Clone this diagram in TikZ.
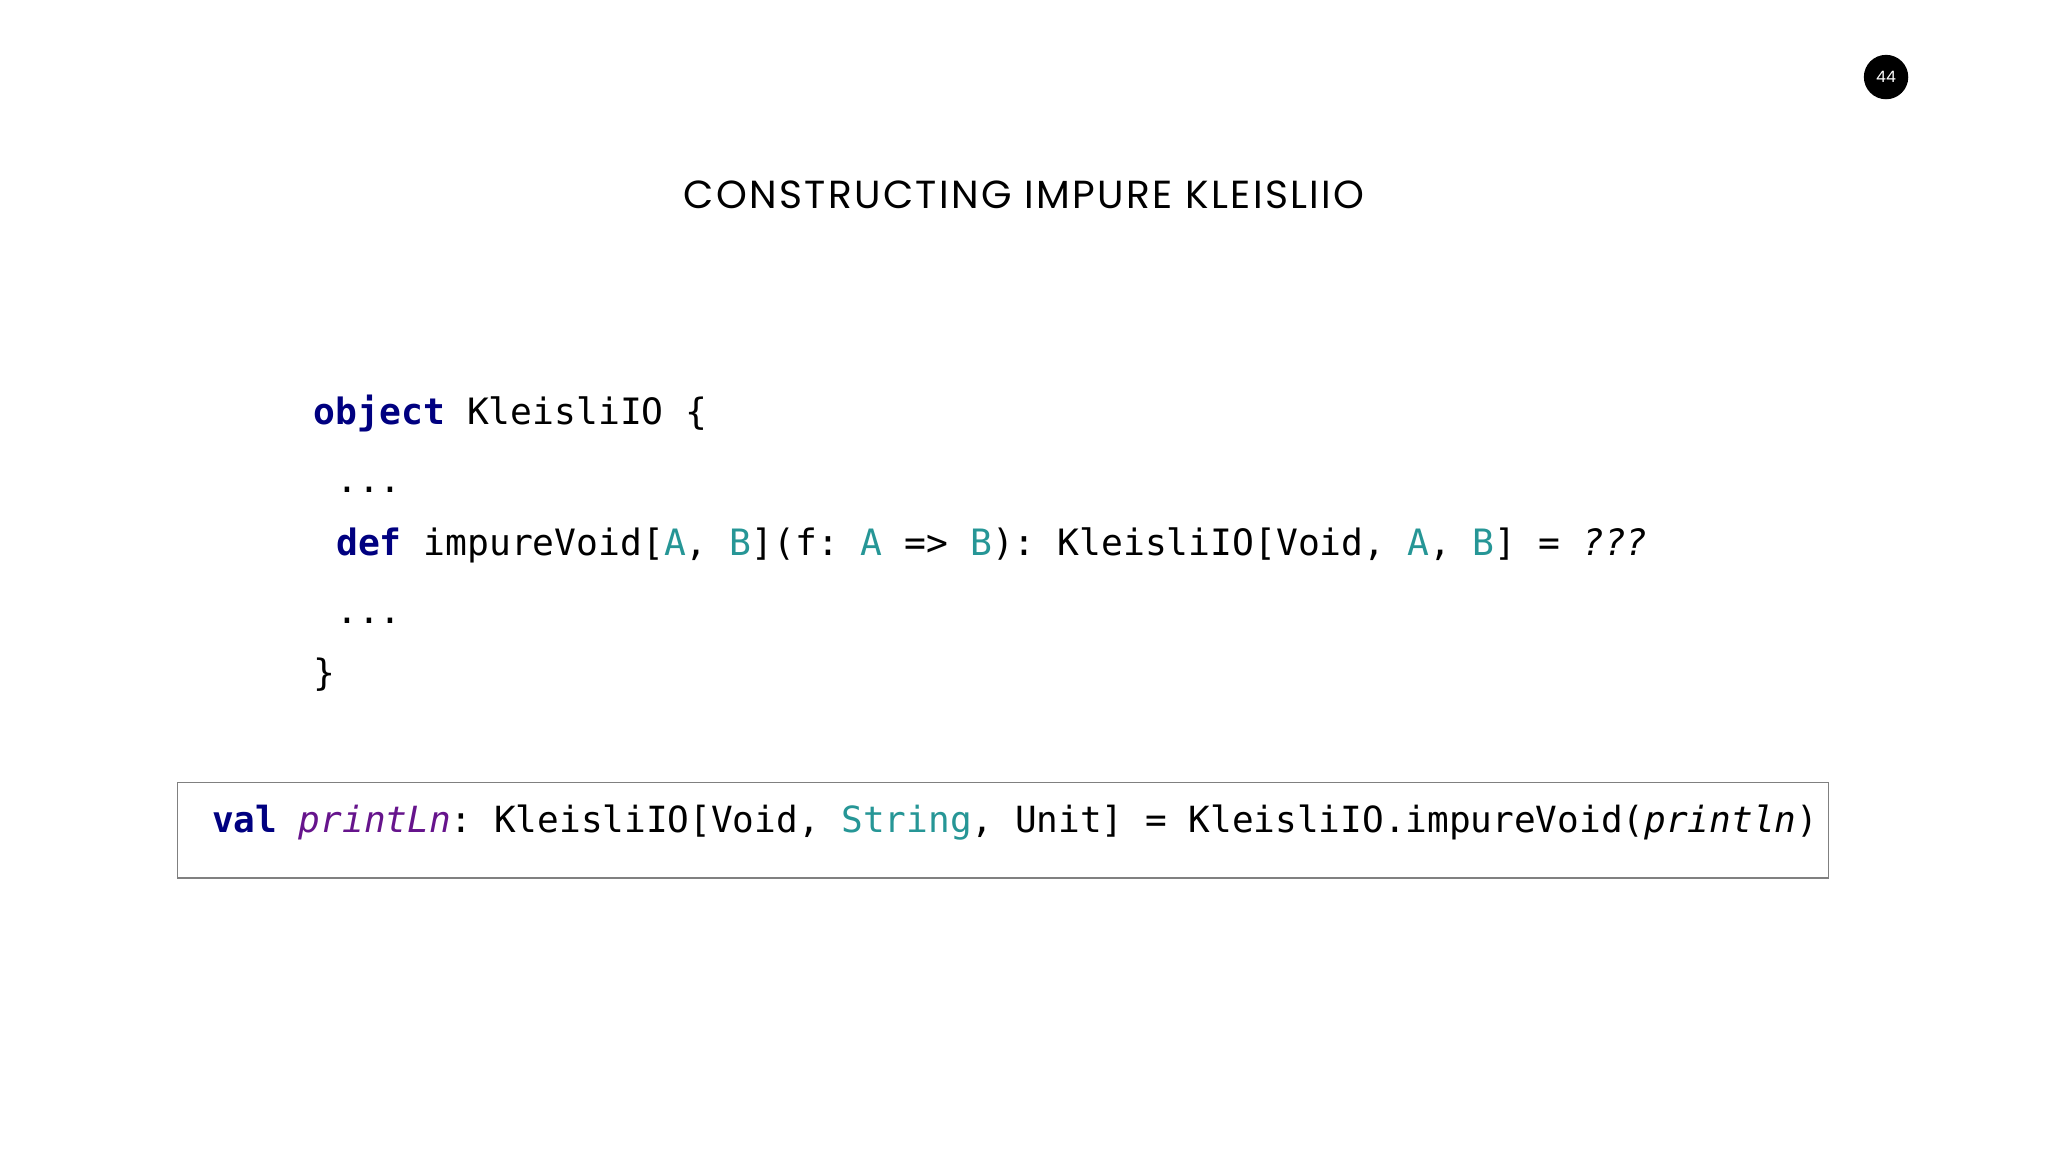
\documentclass[tikz,border=0pt]{standalone}
\usepackage{fontspec}
\setmonofont{DejaVu Sans Mono}
\newfontfamily\titlefont[LetterSpace=6]{Poppins}
\newfontfamily\badgefont{Poppins}
\definecolor{kw}{RGB}{0,0,128}
\definecolor{ty}{RGB}{38,150,150}
\definecolor{pu}{RGB}{102,20,140}
\newcommand{\K}[1]{\textcolor{kw}{\textbf{#1}}}
\newcommand{\T}[1]{\textcolor{ty}{#1}}
\begin{document}
\begin{tikzpicture}[x=0.5pt,y=-0.5pt,
  code/.style={anchor=base west,inner sep=0pt,font=\ttfamily\fontsize{13.9}{16}\selectfont},
  boxcode/.style={anchor=base west,inner sep=0pt,font=\ttfamily\fontsize{13.8}{16}\selectfont}]
\useasboundingbox (0,0) rectangle (1568,882);
\fill[white] (0,0) rectangle (1568,882);
\node[circle,fill=black,minimum size=17pt,inner sep=0pt,text=white,font=\badgefont\fontsize{6}{7}\selectfont] (badge) at (1444,59) {44};
\node[font=\titlefont\fontsize{15}{16}\selectfont,anchor=base] (title) at (784,160) {CONSTRUCTING IMPURE KLEISLIIO};
\node[code] (l1) at (240,325) {\K{object} KleisliIO \{};
\node[code] (l2) at (257,377) {...};
\node[code] (l3) at (257,425) {\K{def} impureVoid[\T{A}, \T{B}](f: \T{A} => \T{B}): KleisliIO[Void, \T{A}, \T{B}] = \textit{???}};
\node[code] (l4) at (257,477) {...};
\node[code] (l5) at (240,525) {\}};
\draw[gray,line width=0.6pt] (136,599) rectangle (1400,672);
\node[boxcode] (bx) at (162,637) {\K{val} \textcolor{pu}{\textit{printLn}}: KleisliIO[Void, \T{String}, Unit] = KleisliIO.impureVoid(\textit{println})};
\end{tikzpicture}
\end{document}
